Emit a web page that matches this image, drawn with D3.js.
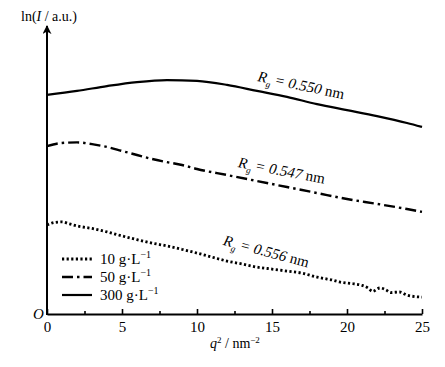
<!DOCTYPE html>
<html>
<head>
<meta charset="utf-8">
<script src="https://cdn.jsdelivr.net/npm/d3@7"></script>
<style>
  body { margin: 0; background: #fff; }
  svg { display: block; }
  text { font-family: "Liberation Serif", "DejaVu Serif", serif; fill: #000; }
</style>
</head>
<body>
<svg id="drawing_region"></svg>
<script>
// q^2 (nm^-2) and ln(I) (arbitrary units)
const q2_10  = [0, 0.5, 1, 1.5, 2, 3, 4, 5, 6, 7, 8, 9, 10, 11, 12, 13, 14, 15, 16, 17, 18, 18.5, 19, 19.5, 20, 20.5, 21, 21.4, 21.7, 22.2, 22.6, 22.9, 23.5, 24, 24.5, 25];
const lnI_10 = [3.11, 3.20, 3.22, 3.15, 3.08, 2.99, 2.87, 2.73, 2.60, 2.48, 2.38, 2.26, 2.13, 1.99, 1.85, 1.75, 1.64, 1.57, 1.50, 1.43, 1.29, 1.24, 1.19, 1.12, 1.08, 1.05, 1.00, 0.91, 0.79, 0.91, 0.84, 0.75, 0.77, 0.66, 0.61, 0.59];

const q2_50  = [0, 1, 2, 3, 4, 5, 6, 7, 8, 9, 10, 12, 14, 16, 18, 20, 22, 24, 25];
const lnI_50 = [5.87, 5.98, 6.00, 5.94, 5.84, 5.70, 5.56, 5.42, 5.31, 5.21, 5.07, 4.86, 4.65, 4.44, 4.23, 4.02, 3.85, 3.67, 3.57];

const q2_300  = [0, 2, 4, 6, 8, 10, 12, 14, 16, 18, 20, 22, 24, 25];
const lnI_300 = [7.66, 7.80, 7.97, 8.11, 8.18, 8.15, 8.01, 7.80, 7.59, 7.34, 7.13, 6.92, 6.68, 6.54];

const series_names = ["10", "50", "300"];
const rg_labels = ["0.556", "0.547", "0.550"];
const x_ticks = [0, 5, 10, 15, 20, 25];
const x_minor = [2.5, 7.5, 12.5, 17.5, 22.5];

const config = {
    width: 445,
    height: 367,
    margin: {top: 28, right: 23, bottom: 53, left: 47}
};

const svg = d3.select('#drawing_region')
    .attr('width', config.width)
    .attr('height', config.height);

const xscale = d3.scaleLinear()
    .domain([0, 25])
    .range([config.margin.left, config.width - config.margin.right]);

const yscale = d3.scaleLinear()
    .domain([0, 10])
    .range([config.height - config.margin.bottom, config.margin.top]);

const styles = [
    {dash: "2.2,2.4", width: 2.8},
    {dash: "11,4,2.5,4", width: 2.4},
    {dash: null, width: 2.2}
];

const all_series = [
    q2_10.map((q, i) => ({x: q, y: lnI_10[i]})),
    q2_50.map((q, i) => ({x: q, y: lnI_50[i]})),
    q2_300.map((q, i) => ({x: q, y: lnI_300[i]}))
];

const line = d3.line()
    .x(d => xscale(d.x))
    .y(d => yscale(d.y))
    .curve(d3.curveMonotoneX);

svg.selectAll('path.curve')
    .data(all_series)
    .join('path')
    .attr('class', 'curve')
    .attr('d', line)
    .attr('fill', 'none')
    .attr('stroke', '#000')
    .attr('stroke-width', (d, i) => styles[i].width)
    .attr('stroke-dasharray', (d, i) => styles[i].dash);

// x axis: major ticks point up, minor ticks shorter
const xaxis = d3.axisBottom(xscale)
    .tickValues(x_ticks)
    .tickSizeInner(-5)
    .tickSizeOuter(0)
    .tickPadding(7);

const xaxis_group = svg.append('g')
    .attr('transform', `translate(0, ${yscale(0)})`)
    .call(xaxis)
    .attr('font-family', '"Liberation Serif", serif')
    .attr('font-size', 15);
xaxis_group.select('.domain').attr('stroke-width', 2);
xaxis_group.selectAll('.tick line').attr('stroke-width', 1.6);

const xminor_group = svg.append('g')
    .attr('transform', `translate(0, ${yscale(0)})`)
    .call(d3.axisBottom(xscale).tickValues(x_minor).tickSizeInner(-3).tickSizeOuter(0).tickFormat(''));
xminor_group.select('.domain').remove();
xminor_group.selectAll('.tick line').attr('stroke-width', 1.6);

// y axis with arrow
svg.append('defs').append('marker')
    .attr('id', 'arrow')
    .attr('viewBox', '0 0 10 10')
    .attr('refX', 9).attr('refY', 5)
    .attr('markerWidth', 9).attr('markerHeight', 9)
    .attr('markerUnits', 'userSpaceOnUse')
    .attr('orient', 'auto')
    .append('path')
    .attr('d', 'M0,0 L10,5 L0,10 L3,5 Z')
    .attr('fill', '#000');

svg.append('line')
    .attr('x1', xscale(0)).attr('x2', xscale(0))
    .attr('y1', yscale(0) + 1).attr('y2', yscale(10) - 2)
    .attr('stroke', '#000')
    .attr('stroke-width', 2)
    .attr('marker-end', 'url(#arrow)');

// axis titles
const ylab = svg.append('text')
    .attr('x', 21).attr('y', 21)
    .style('font-size', '14px');
ylab.append('tspan').text('ln(');
ylab.append('tspan').style('font-style', 'italic').text('I');
ylab.append('tspan').text(' / a.u.)');

svg.append('text')
    .attr('x', 33).attr('y', 319)
    .style('font-size', '15px')
    .style('font-style', 'italic')
    .text('O');

const xlab = svg.append('text')
    .attr('x', 210).attr('y', 348)
    .style('font-size', '14px');
xlab.append('tspan').style('font-style', 'italic').text('q');
xlab.append('tspan').attr('dy', -5).style('font-size', '9px').text('2');
xlab.append('tspan').attr('dy', 5).text(' / nm');
xlab.append('tspan').attr('dy', -5).style('font-size', '9px').text('−2');

// R_g annotations
const rg_pos = [
    {x: 11.7, y: 2.42, angle: 15},
    {x: 12.7, y: 5.14, angle: 11},
    {x: 14.0, y: 8.15, angle: 12}
];
rg_labels.forEach((v, i) => {
    const p = rg_pos[i];
    const t = svg.append('text')
        .attr('transform', `translate(${xscale(p.x)}, ${yscale(p.y)}) rotate(${p.angle})`)
        .style('font-size', '15px');
    t.append('tspan').style('font-style', 'italic').text('R');
    t.append('tspan').attr('dy', 4).style('font-style', 'italic').style('font-size', '9px').text('g');
    t.append('tspan').attr('dy', -4).style('font-style', 'italic').text(' = ' + v);
    t.append('tspan').text(' nm');
});

// legend
const legend = svg.append('g')
    .attr('transform', 'translate(62, 259)');
series_names.forEach((name, i) => {
    const row = legend.append('g').attr('transform', `translate(0, ${i * 18})`);
    row.append('line')
        .attr('x1', 0).attr('x2', 30)
        .attr('stroke', '#000')
        .attr('stroke-width', styles[i].width)
        .attr('stroke-dasharray', styles[i].dash);
    const t = row.append('text')
        .attr('x', 38).attr('y', 5)
        .style('font-size', '15px');
    t.append('tspan').text(name + ' g·L');
    t.append('tspan').attr('dy', -6).style('font-size', '10px').text('−1');
});
</script>
</body>
</html>
